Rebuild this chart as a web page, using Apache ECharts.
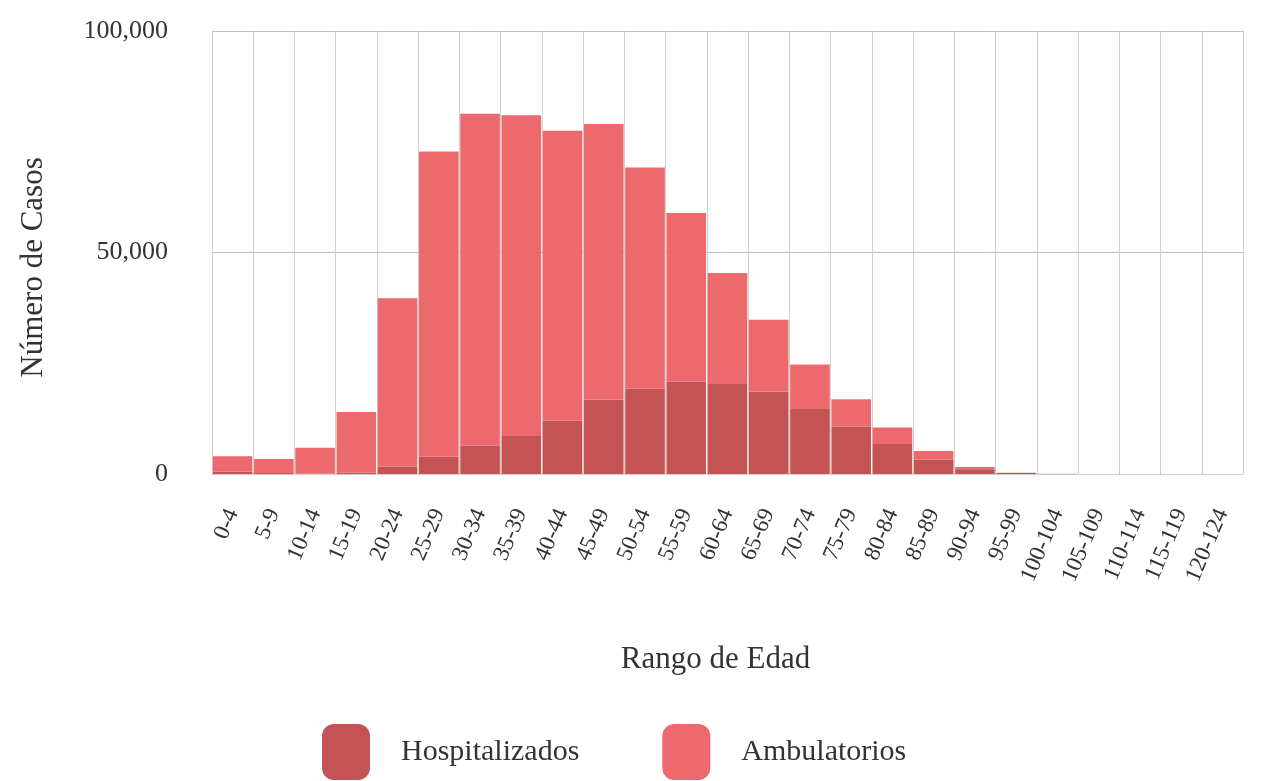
<!DOCTYPE html>
<html>
<head>
<meta charset="utf-8">
<script src="https://cdn.jsdelivr.net/npm/echarts@6/dist/echarts.min.js"></script>
<style>
html,body{margin:0;padding:0;background:#fff;}
#chart{width:1266px;height:781px;}
</style>
</head>
<body>
<div id="chart"></div>
<script>
const categories = ['0-4','5-9','10-14','15-19','20-24','25-29','30-34','35-39','40-44','45-49','50-54','55-59','60-64','65-69','70-74','75-79','80-84','85-89','90-94','95-99','100-104','105-109','110-114','115-119','120-124'];
const hospitalizados = [500,200,100,300,1700,3900,6400,8600,12000,16800,19300,20800,20500,18600,14700,10700,6800,3300,900,200,20,0,0,0,0];
const ambulatorios = [3500,3200,5800,13700,38000,68900,74900,72400,65500,62200,49900,38100,24900,16200,10000,6200,3700,1900,700,100,30,0,0,0,0];
const yTicks = [0,50000,100000];

const font = '"Liberation Serif", "DejaVu Serif", serif';
const chart = echarts.init(document.getElementById('chart'));
chart.setOption({
  animation:false,
  backgroundColor:'#fff',
  grid:{left:212,right:23,top:31,bottom:307,containLabel:false},
  legend:{
    data:['Hospitalizados','Ambulatorios'],
    left:317, top:719,
    itemWidth:48, itemHeight:56, itemGap:83,
    icon:'roundRect',
    textStyle:{fontFamily:font,fontSize:30,color:'#333',padding:[0,0,0,26]}
  },
  xAxis:{
    type:'category',
    data:categories,
    name:'Rango de Edad',
    nameLocation:'middle',
    nameGap:170,
    nameTextStyle:{fontFamily:font,fontSize:31,color:'#333',padding:[0,24,0,0]},
    axisLine:{show:true,lineStyle:{color:'#cfcfcf'}},
    axisTick:{show:false},
    splitLine:{show:true,lineStyle:{color:'#d0d0d0',width:1}},
    axisLabel:{interval:0,rotate:67,fontFamily:font,fontSize:23,color:'#333',margin:36,padding:[0,0,16,0]}
  },
  yAxis:{
    type:'value',
    min:0,max:100000,interval:50000,
    name:'Número de Casos',
    nameLocation:'middle',
    nameGap:163,
    nameTextStyle:{fontFamily:font,fontSize:31,color:'#333',padding:[0,30,0,0]},
    axisLine:{show:false},
    axisTick:{show:false},
    splitLine:{show:true,lineStyle:{color:'#bdbdbd',width:1}},
    axisLabel:{
      fontFamily:font,fontSize:26,color:'#333',margin:44,
      formatter:function(v){return yTicks.indexOf(v)>=0 ? v.toLocaleString('en-US') : '';}
    }
  },
  series:[
    {name:'Hospitalizados',type:'bar',stack:'total',data:hospitalizados,barCategoryGap:'4%',
     itemStyle:{color:'#c04a4c',opacity:0.95}},
    {name:'Ambulatorios',type:'bar',stack:'total',data:ambulatorios,barCategoryGap:'4%',
     itemStyle:{color:'#eb6166',opacity:0.95}}
  ]
});
</script>
</body>
</html>
